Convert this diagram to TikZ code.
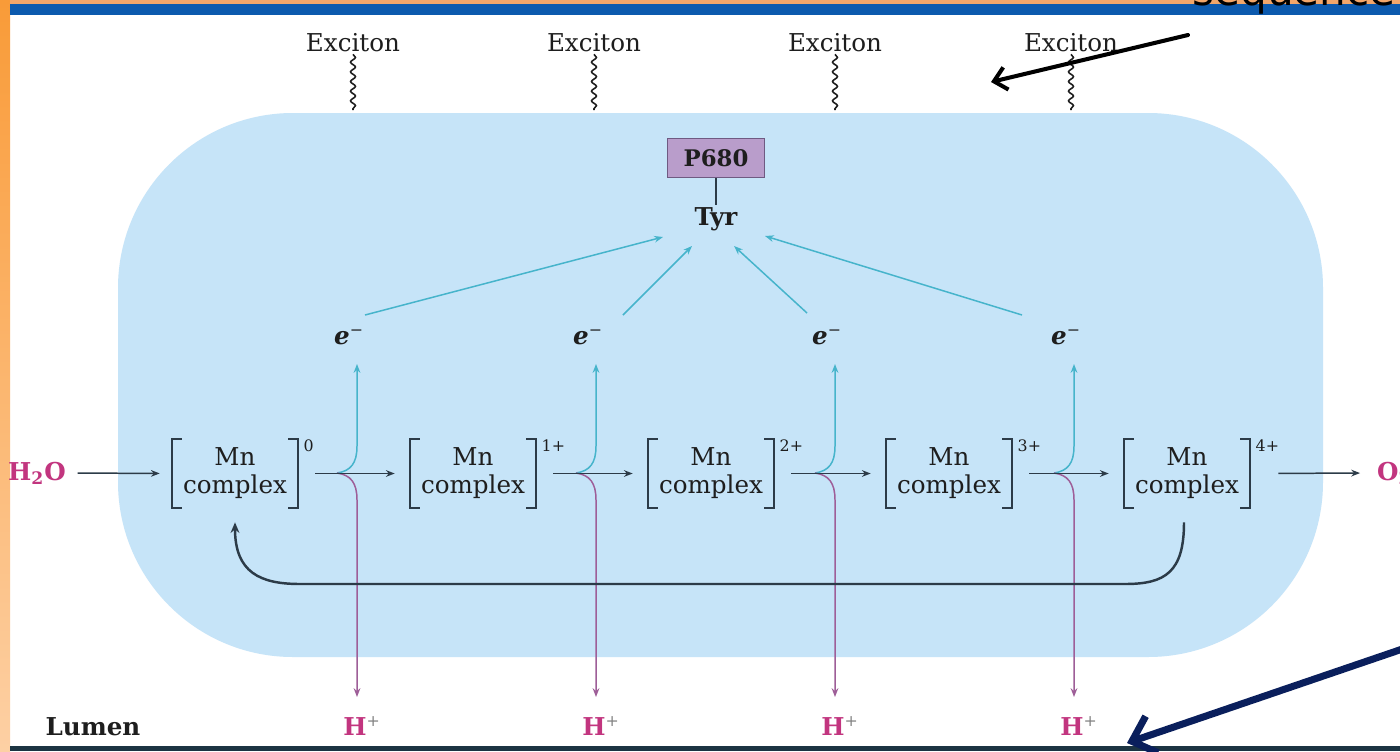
\documentclass[tikz,border=0pt]{standalone}
\usepackage{fontspec}
\setmainfont{DejaVu Serif}
\newfontfamily\handfont{DejaVu Sans}
\usetikzlibrary{arrows.meta,decorations.pathmorphing,calc}
\definecolor{memb}{HTML}{C6E4F8}
\definecolor{mag}{HTML}{C2357F}
\definecolor{cyanl}{HTML}{46B4CB}
\definecolor{magl}{HTML}{9E5E98}
\definecolor{darkl}{HTML}{2C3B48}
\definecolor{pfill}{HTML}{B99DCB}
\definecolor{pdraw}{HTML}{6F5A82}
\definecolor{slideblue}{HTML}{0C5AAE}
\definecolor{slideorange}{HTML}{F99B38}
\definecolor{slidepeach}{HTML}{FDD0A4}
\definecolor{topband}{HTML}{F2A66A}
\definecolor{bottombar}{HTML}{1C3442}
\definecolor{navyann}{HTML}{0A1F5C}
\definecolor{ink}{HTML}{1E1E1E}
\begin{document}
\begin{tikzpicture}[x=0.02cm,y=-0.02cm,
  every node/.style={font=\fontsize{14}{17}\selectfont, text=ink, inner sep=1pt},
  cplx/.style={minimum width=2.52cm, minimum height=1.38cm, align=center, inner sep=0pt},
  supnode/.style={font=\fontsize{9}{10}\selectfont, anchor=north west, inner sep=0pt},
  brk/.style={draw=darkl, line width=1pt},
  arr/.style={draw=darkl, line width=0.85pt, -{Stealth[length=5pt,width=3.8pt]}},
  cyarr/.style={draw=cyanl, line width=0.85pt, -{Stealth[length=5pt,width=3.8pt]}},
  magarr/.style={draw=magl, line width=0.85pt, -{Stealth[length=5pt,width=3.8pt]}},
  wave/.style={draw=ink, line width=0.9pt, decorate, decoration={snake, segment length=5.5pt, amplitude=1.4pt}},
  magtext/.style={text=mag, font=\bfseries\fontsize{14}{17}\selectfont},
  pbox/.style={draw=pdraw, fill=pfill, line width=0.9pt, minimum width=1.94cm, minimum height=0.78cm, font=\bfseries\fontsize{13}{15}\selectfont},
  ret/.style={draw=darkl, line width=1.4pt, -{Stealth[length=6pt,width=5pt]}},
  ann/.style={draw=black, line width=2.3pt, line cap=round, line join=round, -{Straight Barb[length=7pt,width=13pt,line width=2.3pt]}},
  annnavy/.style={draw=navyann, line width=4pt, line cap=round, line join=round, -{Straight Barb[length=12pt,width=22pt,line width=4pt]}}
]
\useasboundingbox (0,0) rectangle (1400,751);
% slide frame
\fill[white] (0,0) rectangle (1400,751);
\shade[top color=slideorange, bottom color=slidepeach] (0,0) rectangle (10,751);
\fill[topband] (10,0) rectangle (1400,4);
\fill[slideblue] (10,4) rectangle (1400,15);
\fill[bottombar] (10,746) rectangle (1400,751);
% membrane
\fill[memb, rounded corners=3.5cm] (118,113) rectangle (1323,657);

% excitons
\foreach \i/\v in {1/353,2/594,3/835,4/1071} {
  \node (x\i) at (\v,43) {Exciton};
  \coordinate (w\i) at (\v,110);
  \draw[wave] (x\i.south) -- (w\i);
}

% P680 and Tyr
\node[pbox] (p680) at (716,158) {P680};
\node[font=\bfseries\fontsize{14}{16}\selectfont] (tyr) at (716,219) {Tyr};
\draw[draw=darkl, line width=0.8pt] (p680.south) -- (tyr.north);

% Mn complexes
\foreach \i/\x/\s in {0/235/0,1/473/1+,2/711/2+,3/949/3+,4/1187/4+} {
  \node[cplx] (mn\i) at (\x,473.5) {Mn\\[-1pt]complex};
  \draw[brk] ([shift={(10,0)}]mn\i.north west) -- (mn\i.north west) -- (mn\i.south west) -- ([shift={(10,0)}]mn\i.south west);
  \draw[brk] ([shift={(-10,0)}]mn\i.north east) -- (mn\i.north east) -- (mn\i.south east) -- ([shift={(-10,0)}]mn\i.south east);
  \node[supnode] (s\i) at ([shift={(5,1)}]mn\i.north east) {\s};
}

% electrons and protons
\foreach \i/\v in {1/357,2/596,3/835,4/1074} {
  \node (e\i) at (\v-8,337) {\textbf{\textit{e}}\textsuperscript{\fontsize{9}{9}\selectfont −}};
  \node[magtext] (h\i) at (\v+5,726) {H\textsuperscript{\fontsize{9}{9}\selectfont\mdseries\color{gray}+}};
  \coordinate (j\i) at (\v-20,473);
  \coordinate (u\i) at (\v,364);
  \coordinate (d\i) at (\v,697);
  \draw[cyarr] (j\i) .. controls (\v-6,471) and (\v,463) .. (\v,446) -- (u\i);
  \draw[magarr] (j\i) .. controls (\v-6,475) and (\v,483) .. (\v,500) -- (d\i);
}

% electrons to Tyr
\draw[cyarr] ([shift={(16,-22)}]e1.center) -- ([shift={(-53,18)}]tyr.center);
\draw[cyarr] ([shift={(35,-22)}]e2.center) -- ([shift={(-24,27)}]tyr.center);
\draw[cyarr] ([shift={(-20,-24)}]e3.center) -- ([shift={(18,27)}]tyr.center);
\draw[cyarr] ([shift={(-44,-22)}]e4.center) -- ([shift={(49,17)}]tyr.center);

% H2O, O2 and main chain
\node[magtext] (h2o) at (37,473) {H\textsubscript{2}O};
\node[magtext, anchor=west] (o2) at (1375,473) {O\textsubscript{2}};
\draw[arr, shorten <=5.5pt, shorten >=6.8pt] (h2o.east) -- (mn0.west);
\foreach \a/\b in {0/1,1/2,2/3,3/4} {
  \draw[arr, shorten <=9.6pt, shorten >=8.5pt] (mn\a.east) -- (mn\b.west);
}
\draw[arr, shorten <=16pt, shorten >=8.5pt] (mn4.east) -- (o2.west);

% return arrow
\draw[ret] ([shift={(-3,14)}]mn4.south) .. controls +(0,50) and +(40,0) .. (1125,584) -- (300,584) .. controls +(-40,0) and +(0,50) .. ([shift={(0,14)}]mn0.south);

% Lumen
\node[font=\bfseries\fontsize{14}{17}\selectfont] (lumen) at (93,727) {Lumen};

% handwritten annotation
\node[anchor=base west, font=\handfont\fontsize{24}{24}\selectfont, text=black, inner sep=0pt] (seq) at (1192,5) {sequence};
\coordinate (ta) at (1188,35);
\coordinate (tb) at (991,82);
\draw[ann] (ta) -- (tb);
\coordinate (na) at (1420,643);
\coordinate (nb) at (1127,743);
\draw[annnavy] (na) -- (nb);
\end{tikzpicture}
\end{document}
